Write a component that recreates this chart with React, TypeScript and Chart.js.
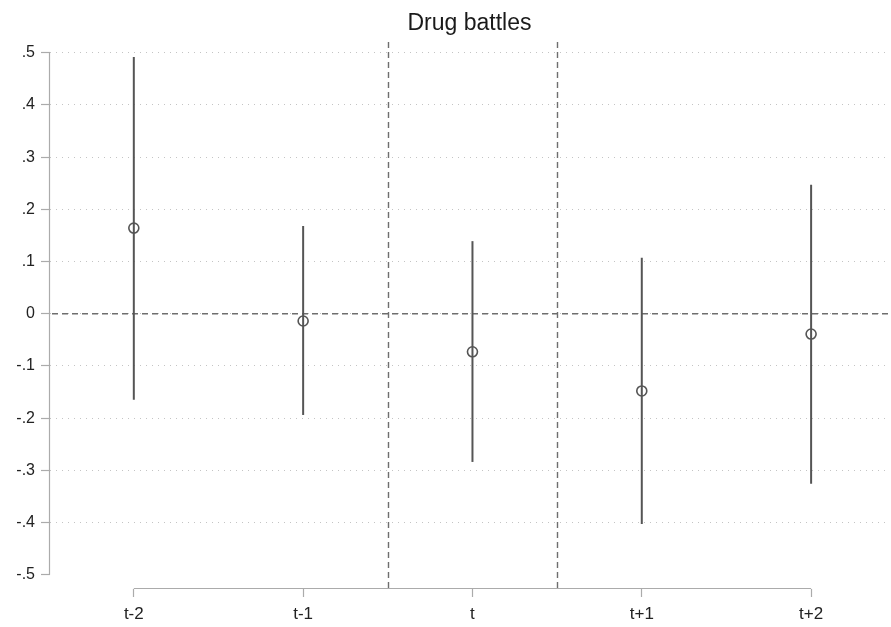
import { useEffect, useRef } from "react";
import { Chart, registerables } from "chart.js";

Chart.register(...registerables);

const chartTitle = "Drug battles";
const categories = ["t-2", "t-1", "t", "t+1", "t+2"];
const estimates = [0.164, -0.014, -0.073, -0.148, -0.039];
const ciLower = [-0.165, -0.194, -0.284, -0.403, -0.326];
const ciUpper = [0.492, 0.168, 0.139, 0.107, 0.247];
const yTicks = [-0.5, -0.4, -0.3, -0.2, -0.1, 0, 0.1, 0.2, 0.3, 0.4, 0.5];
const yTickLabels = ["-.5", "-.4", "-.3", "-.2", "-.1", "0", ".1", ".2", ".3", ".4", ".5"];
const refLinesX = [2.5, 3.5];
const refLineY = 0;

const FONT = "'Liberation Sans', Arial, sans-serif";
const MARK = "#555555";

const stataPlugin = {
  id: "stataDecor",
  beforeDatasetsDraw(chart: any) {
    const { ctx, chartArea, scales } = chart;
    const xs = scales.x;
    const ys = scales.y;
    ctx.save();
    // axis lines spanning first..last tick
    ctx.strokeStyle = "#ababab";
    ctx.lineWidth = 1.2;
    ctx.setLineDash([]);
    ctx.beginPath();
    const ax = chartArea.left - 0.5;
    ctx.moveTo(ax, ys.getPixelForValue(yTicks[0]));
    ctx.lineTo(ax, ys.getPixelForValue(yTicks[yTicks.length - 1]));
    const ay = chartArea.bottom - 0.5;
    ctx.moveTo(xs.getPixelForValue(1), ay);
    ctx.lineTo(xs.getPixelForValue(categories.length), ay);
    ctx.stroke();
    // reference lines
    ctx.strokeStyle = "#6e6e6e";
    ctx.lineWidth = 1.4;
    ctx.setLineDash([6, 4]);
    ctx.beginPath();
    const y0 = ys.getPixelForValue(refLineY);
    ctx.moveTo(chartArea.left + 2, y0);
    ctx.lineTo(chartArea.right, y0);
    ctx.stroke();
    for (const v of refLinesX) {
      const px = Math.round(xs.getPixelForValue(v)) + 0.5;
      ctx.beginPath();
      ctx.moveTo(px, chartArea.top);
      ctx.lineTo(px, chartArea.bottom);
      ctx.stroke();
    }
    ctx.restore();
  },
};

export default function App() {
  const canvasRef = useRef<HTMLCanvasElement | null>(null);

  useEffect(() => {
    document.body.style.margin = "0";
    const canvas = canvasRef.current;
    if (!canvas) return;

    const ciDatasets = categories.map((_, i) => ({
      type: "line" as const,
      data: [
        { x: i + 1, y: ciLower[i] },
        { x: i + 1, y: ciUpper[i] },
      ],
      borderColor: MARK,
      borderWidth: 2,
      pointRadius: 0,
      fill: false,
      order: 2,
    }));

    const pointDataset = {
      type: "scatter" as const,
      data: categories.map((_, i) => ({ x: i + 1, y: estimates[i] })),
      pointRadius: 5,
      pointBorderWidth: 1.6,
      borderColor: MARK,
      backgroundColor: "rgba(0,0,0,0)",
      order: 1,
    };

    const chart = new Chart(canvas, {
      type: "scatter",
      data: { datasets: [...ciDatasets, pointDataset] as any },
      plugins: [stataPlugin],
      options: {
        animation: false,
        responsive: false,
        layout: { autoPadding: false, padding: { left: 0, right: 2, top: 0, bottom: 0 } },
        plugins: {
          legend: { display: false },
          tooltip: { enabled: false },
          title: {
            display: true,
            text: chartTitle,
            fullSize: false,
            color: "#1a1a1a",
            font: { family: FONT, size: 23, weight: "normal" },
            padding: { top: 10, bottom: 4.4 },
          },
        },
        scales: {
          x: {
            type: "linear",
            min: 0.505,
            max: 5.46,
            afterFit(scale: any) {
              scale.height = 38;
            },
            afterBuildTicks(scale: any) {
              scale.ticks = categories.map((_, i) => ({ value: i + 1 }));
            },
            ticks: {
              autoSkip: false,
              maxRotation: 0,
              padding: 7,
              color: "#222",
              font: { family: FONT, size: 17 },
              callback: (v: any) => categories[Number(v) - 1] ?? "",
            },
            grid: {
              display: true,
              drawOnChartArea: false,
              drawTicks: true,
              tickLength: 8,
              tickColor: "#ababab",
              tickWidth: 1.2,
            },
            border: { display: false },
          },
          y: {
            type: "linear",
            min: -0.5274,
            max: 0.5205,
            afterFit(scale: any) {
              scale.width = 50;
            },
            afterBuildTicks(scale: any) {
              scale.ticks = yTicks.map((v) => ({ value: v }));
            },
            ticks: {
              padding: 6,
              color: "#222",
              font: { family: FONT, size: 16 },
              callback: (v: any) => {
                const idx = yTicks.findIndex((t) => Math.abs(t - Number(v)) < 1e-9);
                return idx >= 0 ? yTickLabels[idx] : "";
              },
            },
            grid: {
              display: true,
              drawOnChartArea: true,
              drawTicks: true,
              tickLength: 9,
              tickColor: "#ababab",
              tickWidth: 1.2,
              lineWidth: 1,
              color: (c: any) =>
                c.tick && Math.abs(c.tick.value - yTicks[0]) < 1e-9 ? "rgba(0,0,0,0)" : "#c4c4c4",
            },
            border: { display: false, dash: [1, 5] },
          },
        },
      },
    });

    return () => chart.destroy();
  }, []);

  return (
    <div style={{ position: "absolute", left: 0, top: 0, width: 891, height: 627 }}>
      <canvas ref={canvasRef} width={891} height={627} />
    </div>
  );
}
